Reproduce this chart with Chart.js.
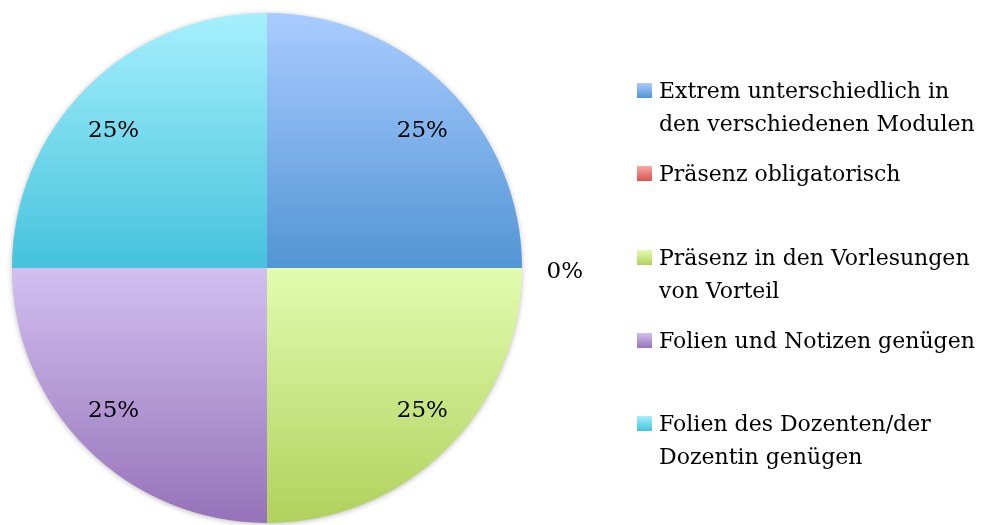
<!DOCTYPE html>
<html>
<head>
<meta charset="utf-8">
<script src="https://cdn.jsdelivr.net/npm/chart.js@4"></script>
<style>
  html, body { margin: 0; padding: 0; background: #fff; }
  #wrap { position: relative; width: 984px; height: 525px; }
  #legend { position: absolute; left: 637px; top: 74px; font-family: "DejaVu Serif", serif; font-size: 22px; color: #000; }
  .item { position: relative; height: 83.3px; padding-left: 22px; line-height: 33px; white-space: nowrap; }
  .box { position: absolute; left: 0; top: 9px; width: 15px; height: 15px; }
</style>
</head>
<body>
<div id="wrap">
  <canvas id="pie" width="984" height="525"></canvas>
  <div id="legend"></div>
</div>
<script>
var labels = [
  ['Extrem unterschiedlich in', 'den verschiedenen Modulen'],
  ['Präsenz obligatorisch'],
  ['Präsenz in den Vorlesungen', 'von Vorteil'],
  ['Folien und Notizen genügen'],
  ['Folien des Dozenten/der', 'Dozentin genügen']
];
var values = [25, 0, 25, 25, 25];
// top / bottom colour of each slice gradient
var colorsTop = ['#a9ccff', '#f7a9a7', '#e2fcb0', '#d2c0f0', '#a6f0fd'];
var colorsBottom = ['#5395d5', '#d9534f', '#b0d15c', '#9672b9', '#45c2dc'];

var total = values.reduce(function(a, b) { return a + b; }, 0);

function sliceYRange(i, cy, r) {
  var start = -Math.PI / 2, k;
  for (k = 0; k < i; k++) start += values[k] / total * Math.PI * 2;
  var end = start + values[i] / total * Math.PI * 2;
  var ys = [cy, cy + r * Math.sin(start), cy + r * Math.sin(end)];
  for (k = -4; k <= 4; k++) {
    var a = k * Math.PI / 2 + Math.PI / 2;
    if (a > start && a < end) ys.push(cy + r * Math.sin(a));
  }
  return [Math.min.apply(null, ys), Math.max.apply(null, ys)];
}

function sliceFill(context) {
  var chart = context.chart, area = chart.chartArea;
  if (!area) return colorsBottom[context.dataIndex];
  var cy = (area.top + area.bottom) / 2;
  var r = Math.min(area.right - area.left, area.bottom - area.top) / 2;
  var yr = sliceYRange(context.dataIndex, cy, r);
  if (yr[1] - yr[0] < 1) return colorsBottom[context.dataIndex];
  var g = chart.ctx.createLinearGradient(0, yr[0], 0, yr[1]);
  g.addColorStop(0, colorsTop[context.dataIndex]);
  g.addColorStop(1, colorsBottom[context.dataIndex]);
  return g;
}

var shadowPlugin = {
  id: 'shadow',
  beforeDatasetsDraw: function(chart) {
    var arc = chart.getDatasetMeta(0).data[0];
    if (!arc) return;
    var ctx = chart.ctx;
    ctx.save();
    ctx.shadowColor = 'rgba(0,0,0,0.35)';
    ctx.shadowBlur = 6;
    ctx.shadowOffsetY = 1;
    ctx.fillStyle = '#ccc';
    ctx.beginPath();
    ctx.arc(arc.x, arc.y, arc.outerRadius - 1, 0, Math.PI * 2);
    ctx.fill();
    ctx.restore();
  }
};

var pctPlugin = {
  id: 'pct',
  afterDatasetsDraw: function(chart) {
    var ctx = chart.ctx;
    ctx.save();
    ctx.font = '23px "DejaVu Serif", serif';
    ctx.fillStyle = '#000';
    ctx.textAlign = 'center';
    ctx.textBaseline = 'middle';
    chart.getDatasetMeta(0).data.forEach(function(arc, i) {
      var mid = (arc.startAngle + arc.endAngle) / 2;
      var txt = Math.round(values[i] / total * 100) + '%';
      var x, y;
      if (values[i] === 0) {
        var d0 = arc.outerRadius * 1.16;
        x = arc.x + Math.cos(mid) * d0 + 2;
        y = arc.y + Math.sin(mid) * d0 + 4;
      } else {
        var d = arc.outerRadius * 0.8;
        x = arc.x + Math.cos(mid) * d * 1.07 + 1;
        y = arc.y + Math.sin(mid) * d * 0.97 + 3;
      }
      ctx.fillText(txt, x, y);
    });
    ctx.restore();
  }
};

new Chart(document.getElementById('pie'), {
  type: 'pie',
  data: {
    labels: labels.map(function(l) { return l.join(' '); }),
    datasets: [{
      data: values,
      backgroundColor: sliceFill,
      borderWidth: 0
    }]
  },
  options: {
    responsive: false,
    animation: false,
    layout: { padding: { left: 12, right: 462, top: 13, bottom: 2 } },
    plugins: {
      legend: { display: false },
      tooltip: { enabled: false }
    }
  },
  plugins: [shadowPlugin, pctPlugin]
});

var legend = document.getElementById('legend');
labels.forEach(function(l, i) {
  var item = document.createElement('div');
  item.className = 'item';
  var box = document.createElement('span');
  box.className = 'box';
  box.style.background = 'linear-gradient(' + colorsTop[i] + ',' + colorsBottom[i] + ')';
  item.appendChild(box);
  l.forEach(function(line, j) {
    if (j > 0) item.appendChild(document.createElement('br'));
    item.appendChild(document.createTextNode(line));
  });
  legend.appendChild(item);
});
</script>
</body>
</html>
